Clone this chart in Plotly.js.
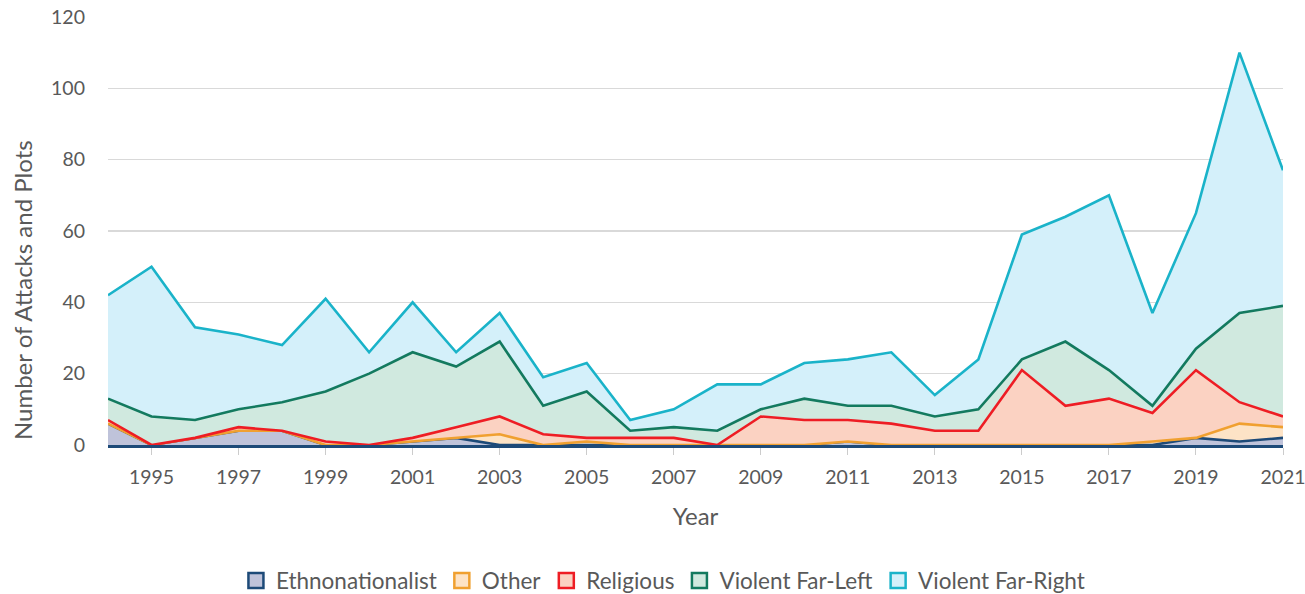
<!DOCTYPE html>
<html>
<head>
<meta charset="utf-8">
<script src="https://cdn.plot.ly/plotly-3.0.1.min.js"></script>
<style>
html,body{margin:0;padding:0;background:#fff;}
#chart{width:1305px;height:594px;}
</style>
</head>
<body>
<div id="chart"></div>
<script>
const years = [1994,1995,1996,1997,1998,1999,2000,2001,2002,2003,2004,2005,2006,2007,2008,2009,2010,2011,2012,2013,2014,2015,2016,2017,2018,2019,2020,2021];
const ethnonationalist = [6,0,2,4,4,0,0,1,2,0,0,0,0,0,0,0,0,1,0,0,0,0,0,0,0,2,1,2];
const other = [0,0,0,0,0,0,0,0,0,3,0,1,0,0,0,0,0,0,0,0,0,0,0,0,1,0,5,3];
const religious = [1,0,0,1,0,1,0,1,3,5,3,1,2,2,0,8,7,6,6,4,4,21,11,13,8,19,6,3];
const farLeft = [6,8,5,5,8,14,20,24,17,21,8,13,2,3,4,2,6,4,5,4,6,3,18,8,2,6,25,31];
const farRight = [29,42,26,21,16,26,6,14,4,8,8,8,3,5,13,7,10,13,15,6,14,35,35,49,26,38,73,38];
const seriesNames = ["Ethnonationalist","Other","Religious","Violent Far-Left","Violent Far-Right"];

const font = "Lato, 'Noto Sans', sans-serif";
const series = [ethnonationalist, other, religious, farLeft, farRight];
const lineColors = ["#1d4a78","#f0a030","#ee1d24","#137a5f","#1ab3c9"];
const fillColors = ["#bfc3da","#fde3c6","#fbd2c2","#d0e9df","#d4f0fa"];

const traces = series.map((vals, i) => ({
  type: "scatter",
  mode: "lines",
  name: seriesNames[i],
  x: years,
  y: vals,
  stackgroup: "one",
  line: {color: lineColors[i], width: 2.6},
  fillcolor: fillColors[i],
  showlegend: false,
  hoverinfo: "skip"
}));

// legend entries with square swatches
seriesNames.forEach((nm, i) => {
  traces.push({
    type: "scatter",
    mode: "markers",
    name: nm,
    x: [null], y: [null],
    marker: {symbol: "square", size: 15, color: fillColors[i], line: {color: lineColors[i], width: 2.5}},
    showlegend: true,
    hoverinfo: "skip"
  });
});

const layout = {
  width: 1305, height: 594,
  margin: {l: 108, r: 22, t: 17, b: 149},
  paper_bgcolor: "#fff",
  plot_bgcolor: "#fff",
  font: {family: font, color: "#595959", size: 19},
  showlegend: true,
  legend: {
    orientation: "h", xref: "container", x: 0.508, xanchor: "center",
    yref: "container", y: 0.022, yanchor: "middle",
    traceorder: "normal",
    font: {family: font, size: 22.5, color: "#595959"},
    itemwidth: 30,
    tracegroupgap: 0
  },
  xaxis: {
    range: [1994, 2021],
    tick0: 1995, dtick: 2,
    showgrid: false, zeroline: false,
    ticks: "outside", ticklen: 7, tickcolor: "#cccccc",
    showline: true, linecolor: "#1d4a78", linewidth: 2.5,
    ticklabelstandoff: 6,
    ticklabeloverflow: "allow",
    tickfont: {family: font, size: 19.5, color: "#595959"},
    title: {text: "Year", font: {family: font, size: 24, color: "#595959"}, standoff: 22},
    automargin: false
  },
  yaxis: {
    range: [0, 120],
    dtick: 20,
    showgrid: true, gridcolor: "#d9d9d9", gridwidth: 1.5,
    zeroline: false,
    ticks: "", ticklabelstandoff: 22,
    tickfont: {family: font, size: 19.5, color: "#595959"},
    automargin: false
  },
  annotations: [{
    text: "Number of Attacks and Plots",
    textangle: -90,
    xref: "paper", yref: "paper",
    x: -0.0732, y: 0.362,
    xanchor: "center", yanchor: "middle",
    showarrow: false,
    font: {family: font, size: 24, color: "#595959"}
  }],
  hovermode: false
};

Plotly.newPlot("chart", traces, layout, {displayModeBar: false, staticPlot: true});
</script>
</body>
</html>
